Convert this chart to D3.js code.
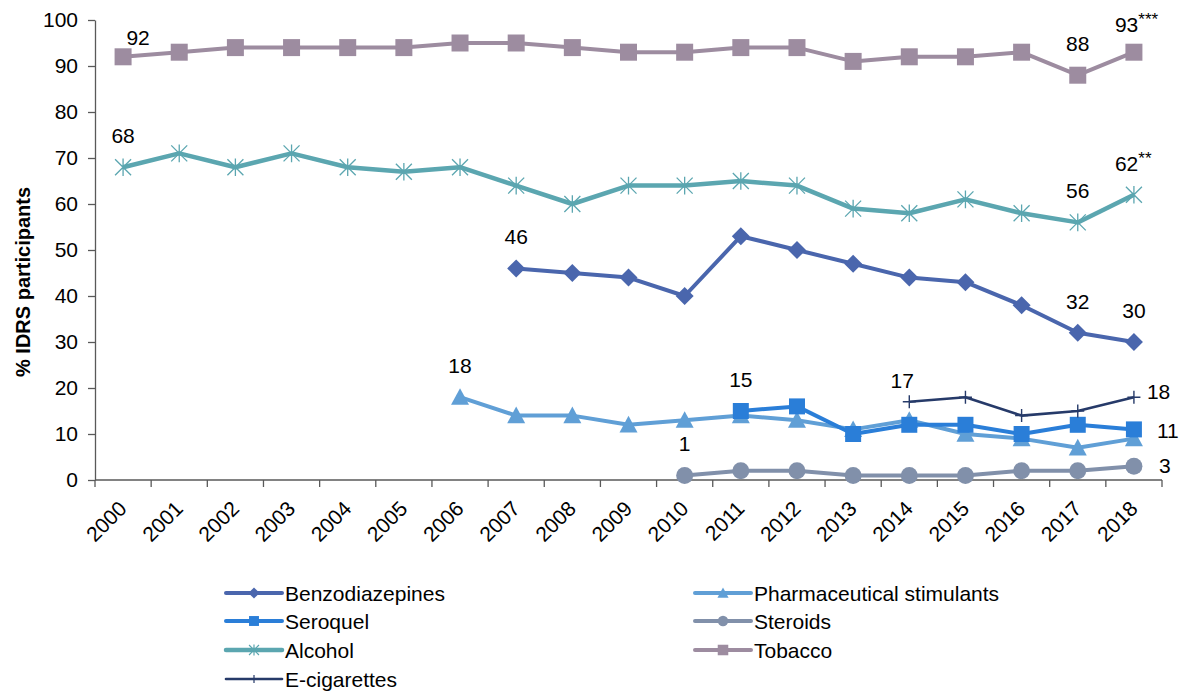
<!DOCTYPE html>
<html>
<head>
<meta charset="utf-8">
<script src="https://cdn.jsdelivr.net/npm/d3@7/dist/d3.min.js"></script>
<style>
  html, body { margin: 0; padding: 0; background: #ffffff; }
  svg { display: block; font-family: "Liberation Sans", Arial, sans-serif; }
</style>
</head>
<body>
<svg id="chart" width="1183" height="691"></svg>
<script>
// ---------- data ----------
const years = ["2000","2001","2002","2003","2004","2005","2006","2007","2008","2009",
               "2010","2011","2012","2013","2014","2015","2016","2017","2018"];
const yTicks = [0,10,20,30,40,50,60,70,80,90,100];
const seriesNames = ["Benzodiazepines","Pharmaceutical stimulants","Seroquel","Steroids","Alcohol","Tobacco","E-cigarettes"];

const benzodiazepines = [null,null,null,null,null,null,null,46,45,44,40,53,50,47,44,43,38,32,30];
const pharmaStimulants = [null,null,null,null,null,null,18,14,14,12,13,14,13,11,13,10,9,7,9];
const seroquel        = [null,null,null,null,null,null,null,null,null,null,null,15,16,10,12,12,10,12,11];
const steroids        = [null,null,null,null,null,null,null,null,null,null,1,2,2,1,1,1,2,2,3];
const alcohol         = [68,71,68,71,68,67,68,64,60,64,64,65,64,59,58,61,58,56,62];
const tobacco         = [92,93,94,94,94,94,95,95,94,93,93,94,94,91,92,92,93,88,93];
const eCigarettes     = [null,null,null,null,null,null,null,null,null,null,null,null,null,null,17,18,14,15,18];

// data labels: series, year, suffix
const labelSeries = ["Tobacco","Tobacco","Tobacco","Alcohol","Alcohol","Alcohol",
  "Benzodiazepines","Benzodiazepines","Benzodiazepines","Pharmaceutical stimulants",
  "Seroquel","Seroquel","Steroids","Steroids","E-cigarettes","E-cigarettes"];
const labelYears = ["2000","2017","2018","2000","2017","2018","2007","2017","2018","2006",
  "2011","2018","2010","2018","2014","2018"];
const labelSuffix = ["","","***","","","**","","","","","","","","","",""];

// ---------- styling ----------
const valuesByName = {
  "Benzodiazepines": benzodiazepines,
  "Pharmaceutical stimulants": pharmaStimulants,
  "Seroquel": seroquel,
  "Steroids": steroids,
  "Alcohol": alcohol,
  "Tobacco": tobacco,
  "E-cigarettes": eCigarettes
};
const style = {
  "Benzodiazepines":           {color:"#4a66ad", width:4,   marker:"diamond",  size:9},
  "Pharmaceutical stimulants": {color:"#609fd6", width:4,   marker:"triangle", size:9},
  "Seroquel":                  {color:"#2a7ed8", width:4,   marker:"square",   size:8},
  "Steroids":                  {color:"#8190aa", width:4,   marker:"circle",   size:8.5},
  "Alcohol":                   {color:"#5ba6b0", width:4.5, marker:"star",     size:8},
  "Tobacco":                   {color:"#9d8ca0", width:4,   marker:"square",   size:8.5},
  "E-cigarettes":              {color:"#263a69", width:2.6, marker:"plus",     size:6.5}
};

function markerPath(type, s) {
  switch (type) {
    case "diamond":  return `M0,${-s}L${s},0L0,${s}L${-s},0Z`;
    case "square":   return `M${-s},${-s}H${s}V${s}H${-s}Z`;
    case "triangle": return `M0,${-s}L${s},${s*0.85}L${-s},${s*0.85}Z`;
    case "circle":   return `M${s},0A${s},${s} 0 1,1 ${-s},0A${s},${s} 0 1,1 ${s},0Z`;
    case "star":     return `M${-s},${-s}L${s},${s}M${-s},${s}L${s},${-s}M0,${-s*1.1}V${s*1.1}`;
    case "plus":     return `M0,${-s}V${s}M${-s},0H${s}`;
  }
}
const strokeMarker = t => t === "star" || t === "plus";

// ---------- layout ----------
const svg = d3.select("#chart");
svg.append("rect").attr("width",1183).attr("height",691).attr("fill","#fff");

const x = d3.scaleBand().domain(years).range([95, 1162]).padding(0);
const cx = yr => x(yr) + x.bandwidth() / 2;
const y = d3.scaleLinear().domain([0, 100]).range([480, 20]);

const axisColor = "#595959";
const FS = 21;

// Y axis
const yAxis = svg.append("g").attr("transform", `translate(${x.range()[0]},0)`)
  .call(d3.axisLeft(y).tickValues(yTicks).tickSize(7).tickSizeOuter(0).tickPadding(10));
yAxis.select(".domain").attr("stroke", axisColor).attr("stroke-width", 1.3);
yAxis.selectAll(".tick line").attr("stroke", axisColor).attr("stroke-width", 1.3);
yAxis.selectAll(".tick text").attr("font-size", FS).attr("fill", "#000")
  .attr("font-family", "'Liberation Sans', Arial, sans-serif");

// X axis
const xAxisG = svg.append("g").attr("transform", `translate(0,${y(0)})`);
xAxisG.append("line").attr("x1", x.range()[0]).attr("x2", x.range()[1])
  .attr("stroke", axisColor).attr("stroke-width", 1.3);
const boundaries = years.map(d => x(d)).concat([x.range()[1]]);
xAxisG.selectAll("line.tk").data(boundaries).join("line").attr("class","tk")
  .attr("x1", d => d).attr("x2", d => d).attr("y1", 0).attr("y2", 7)
  .attr("stroke", axisColor).attr("stroke-width", 1.3);
xAxisG.selectAll("text").data(years).join("text")
  .attr("transform", d => `translate(${cx(d) + 5},${30}) rotate(-45)`)
  .attr("text-anchor", "end").attr("font-size", FS).attr("fill", "#000")
  .text(d => d);

// Y title
svg.append("text")
  .attr("transform", `translate(30,${282}) rotate(-90)`)
  .attr("text-anchor", "middle").attr("font-size", 20).attr("font-weight", "bold")
  .attr("fill", "#000").text("% IDRS participants");

// ---------- series ----------
const line = d3.line().defined(d => d.v != null).x(d => cx(d.year)).y(d => y(d.v));

seriesNames.forEach(name => {
  const st = style[name];
  const pts = years.map((yr, i) => ({year: yr, v: valuesByName[name][i]}));
  const g = svg.append("g");
  g.append("path").datum(pts).attr("d", line)
    .attr("fill", "none").attr("stroke", st.color).attr("stroke-width", st.width)
    .attr("stroke-linejoin", "round");
  g.selectAll("path.m").data(pts.filter(d => d.v != null)).join("path").attr("class","m")
    .attr("transform", d => `translate(${cx(d.year)},${y(d.v)})`)
    .attr("d", markerPath(st.marker, st.size))
    .attr("fill", strokeMarker(st.marker) ? "none" : st.color)
    .attr("stroke", strokeMarker(st.marker) ? st.color : "none")
    .attr("stroke-width", st.marker === "plus" ? 1.4 : 1.3);
});

// ---------- data labels ----------
const labelOffsets = {
  "Tobacco|2000": {dx: 15, dy: -12},
  "Tobacco|2018": {dx: 0, dy: -20},
  "E-cigarettes|2014": {dx: -7, dy: -14},
  "Seroquel|2018": {dx: 23, dy: 9, anchor: "start"},
  "Steroids|2018": {dx: 25, dy: 7, anchor: "start"},
  "E-cigarettes|2018": {dx: 13, dy: 2, anchor: "start"}
};
labelSeries.forEach((name, i) => {
  const yr = labelYears[i];
  const v = valuesByName[name][years.indexOf(yr)];
  const key = name + "|" + yr;
  const off = labelOffsets[key] || {dx: 0, dy: -24};
  const t = svg.append("text").attr("font-size", FS).attr("fill", "#000");
  if (labelSuffix[i]) {
    t.attr("x", cx(yr) - 19 + off.dx).attr("y", y(v) + off.dy).attr("text-anchor", "start");
    t.append("tspan").text(v);
    t.append("tspan").attr("font-size", 17).attr("dy", -7).text(labelSuffix[i]);
  } else {
    t.attr("x", cx(yr) + off.dx).attr("y", y(v) + off.dy)
     .attr("text-anchor", off.anchor || "middle").text(v);
  }
});

// ---------- legend ----------
const legendCols = [226, 695];
const legendRows = [593, 621, 650, 679];
seriesNames.forEach((name, i) => {
  const st = style[name];
  const lx = legendCols[i % 2], ly = legendRows[Math.floor(i / 2)];
  const g = svg.append("g").attr("transform", `translate(${lx},${ly})`);
  g.append("line").attr("x1", 0).attr("x2", 56).attr("y1", 0).attr("y2", 0)
    .attr("stroke", st.color).attr("stroke-width", st.width).attr("stroke-linecap", "round");
  g.append("path").attr("transform", "translate(28,0)")
    .attr("d", markerPath(st.marker, st.size * 0.62))
    .attr("fill", strokeMarker(st.marker) ? "none" : st.color)
    .attr("stroke", strokeMarker(st.marker) ? st.color : "none")
    .attr("stroke-width", 1.2);
  g.append("text").attr("x", 59).attr("y", 7.5).attr("font-size", FS).attr("fill", "#000")
    .text(name);
});
</script>
</body>
</html>
